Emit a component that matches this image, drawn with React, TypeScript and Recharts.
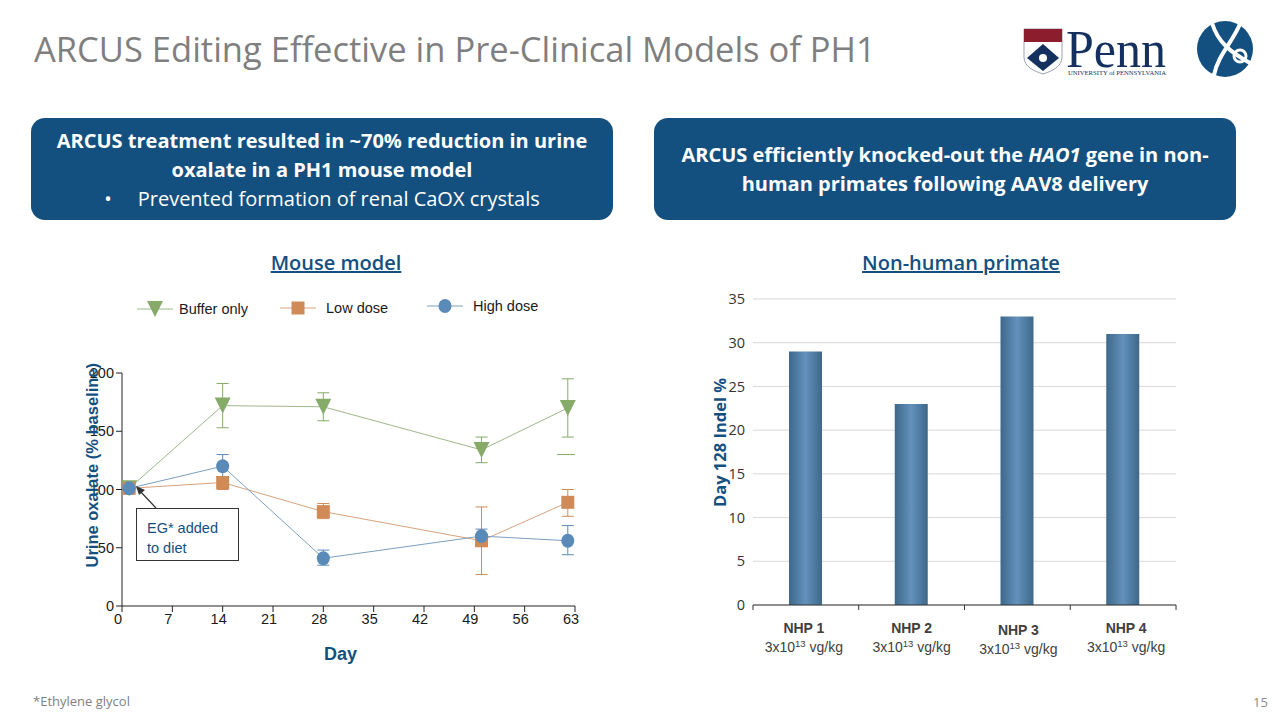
import React from 'react';
import {
  LineChart, Line, BarChart, Bar, XAxis, YAxis, CartesianGrid, ErrorBar, Legend, ReferenceLine,
} from 'recharts';

const NAVY = '#14507f';
const GREEN = '#86aa68';
const ORANGE = '#d08a58';
const BLUE = '#5a8ab8';

// mouse model
const days = [1, 14, 28, 50, 62];
const dayTicks = [0, 7, 14, 21, 28, 35, 42, 49, 56, 63];
const oxalateTicks = [0, 50, 100, 150, 200];
const buffer = [101, 172, 171, 134, 170];
const bufferLow = [101, 153, 159, 123, 145];
const bufferHigh = [101, 191, 183, 145, 195];
const lowDose = [101, 106, 81, 56, 89];
const lowDoseLow = [101, 100, 75, 27, 77];
const lowDoseHigh = [101, 111, 88, 85, 100];
const highDose = [101, 120, 41, 60, 56];
const highDoseLow = [101, 111, 35, 54, 44];
const highDoseHigh = [101, 130, 48, 66, 69];

const mouseData = days.map((day, i) => ({
  day,
  buffer: buffer[i],
  bufferErr: [buffer[i] - bufferLow[i], bufferHigh[i] - buffer[i]],
  low: lowDose[i],
  lowErr: [lowDose[i] - lowDoseLow[i], lowDoseHigh[i] - lowDose[i]],
  high: highDose[i],
  highErr: [highDose[i] - highDoseLow[i], highDoseHigh[i] - highDose[i]],
}));

// non-human primate
const animals = ['NHP 1', 'NHP 2', 'NHP 3', 'NHP 4'];
const indel = [29, 23, 33, 31];
const indelTicks = [0, 5, 10, 15, 20, 25, 30, 35];
const nhpData = animals.map((name, i) => ({ name, indel: indel[i] }));

const OPEN = '"Open Sans", sans-serif';
const ARIAL = '"Liberation Sans", Arial, sans-serif';

const TriangleDot = ({ cx, cy }: any) => (
  <path d={`M${cx - 8} ${cy - 8}L${cx + 8} ${cy - 8}L${cx} ${cy + 8}Z`} fill={GREEN} />
);
const SquareDot = ({ cx, cy }: any) => (
  <rect x={cx - 6.5} y={cy - 6.5} width={13} height={13} fill={ORANGE} />
);
const CircleDot = ({ cx, cy }: any) => (
  <ellipse cx={cx} cy={cy} rx={6.5} ry={7} fill={BLUE} />
);

const legendItems = [
  { label: 'Buffer only', color: '#9db88a', left: 137, top: 301, text: 179, kind: 'tri' },
  { label: 'Low dose', color: '#d9a27c', left: 280, top: 300, text: 326, kind: 'sq' },
  { label: 'High dose', color: '#7d9fc1', left: 427, top: 298, text: 473, kind: 'ci' },
];

const MouseLegend = () => (
  <div style={{ position: 'relative', width: 580, height: 30 }}>
    {legendItems.map((it) => (
      <React.Fragment key={it.label}>
        <svg style={{ position: 'absolute', left: it.left - 30, top: it.top - 291 }} width={36} height={18}>
          <line x1={0} x2={36} y1={9} y2={9} stroke={it.color} strokeWidth={1} />
          {it.kind === 'tri' && <TriangleDot cx={18} cy={9} />}
          {it.kind === 'sq' && <SquareDot cx={18} cy={9} />}
          {it.kind === 'ci' && <CircleDot cx={18} cy={9} />}
        </svg>
        <span style={{ position: 'absolute', left: it.text - 30, top: it.top - 291, fontFamily: ARIAL, fontSize: 14.5, color: '#1a1a1a', lineHeight: '18px', whiteSpace: 'nowrap' }}>
          {it.label}
        </span>
      </React.Fragment>
    ))}
  </div>
);

const NhpTick = ({ x, y, payload, index }: any) => {
  const half = 52.9;
  const shift = payload.value === 'NHP 3' ? 2 : 0;
  const nudge = [-2, 0, 1, 3][index] ?? 0;
  return (
    <g>
      <line x1={x - half} x2={x - half} y1={y - 8} y2={y - 3} stroke="#333" />
      {index === animals.length - 1 && <line x1={x + half} x2={x + half} y1={y - 8} y2={y - 3} stroke="#333" />}
      <text x={x + nudge} y={y + 20 + shift} textAnchor="middle" fontFamily={ARIAL} fontSize={14} fontWeight="bold" fill="#404040">
        {payload.value}
      </text>
      <text x={x + nudge} y={y + 39 + shift} textAnchor="middle" fontFamily={ARIAL} fontSize={14} fill="#404040">
        3x10<tspan dy={-5} fontSize={9.5}>13</tspan><tspan dy={5}> vg/kg</tspan>
      </text>
    </g>
  );
};

const Box = ({ left, children }: any) => (
  <div style={{
    position: 'absolute', left, top: 118, width: 582, height: 102, background: NAVY, borderRadius: 14,
    color: '#fff', fontFamily: OPEN, fontSize: 20, lineHeight: '29px', textAlign: 'center',
    display: 'flex', flexDirection: 'column', justifyContent: 'center',
  }}>
    {children}
  </div>
);

const Heading = ({ center, children }: any) => (
  <div style={{
    position: 'absolute', left: center - 150, width: 300, top: 249, textAlign: 'center', fontFamily: OPEN,
    fontSize: 20, fontWeight: 600, color: NAVY, textDecoration: 'underline', lineHeight: '28px',
  }}>
    {children}
  </div>
);

const Logos = () => (
  <svg style={{ position: 'absolute', left: 1010, top: 15 }} width={260} height={70}>
    {/* Penn shield */}
    <path d="M14 14H52V42C52 52 42 56 33 59C24 56 14 52 14 42Z" fill="#fff" stroke="#9aa3b2" />
    <rect x={14} y={14} width={38} height={13} fill="#8c1d2c" />
    <path d="M33 29L49 43L33 56L17 43Z" fill="#14305f" />
    <circle cx={33} cy={43} r={4} fill="#fff" />
    <text x={56} y={52} fontFamily='"Liberation Serif", serif' fontSize={52} fill="#14305f" textLength={100} lengthAdjust="spacingAndGlyphs">Penn</text>
    <text x={58} y={60} fontFamily='"Liberation Serif", serif' fontSize={6.5} fill="#14305f" textLength={98} lengthAdjust="spacingAndGlyphs">UNIVERSITY of PENNSYLVANIA</text>
    {/* round mark */}
    <circle cx={215} cy={34} r={28} fill={NAVY} />
    <path d="M202 8C208 28 222 38 240 48M230 9C222 28 208 40 204 60" fill="none" stroke="#fff" strokeWidth={4} />
    <circle cx={230} cy={41} r={6} fill="none" stroke="#fff" strokeWidth={3} />
  </svg>
);

export default function App() {
  return (
    <div style={{ position: 'absolute', left: 0, top: 0, width: 1280, height: 720, background: '#fff', overflow: 'hidden' }}>
      <div style={{ position: 'absolute', left: 34, top: 25, fontFamily: OPEN, fontSize: 34.5, color: '#7f7f7f', whiteSpace: 'nowrap', lineHeight: '48px' }}>
        ARCUS Editing Effective in Pre-Clinical Models of PH1
      </div>
      <Logos />

      <Box left={31}>
        <div style={{ fontWeight: 700 }}>ARCUS treatment resulted in ~70% reduction in urine</div>
        <div style={{ fontWeight: 700 }}>oxalate in a PH1 mouse model</div>
        <div>•&nbsp;&nbsp;&nbsp;&nbsp;&nbsp;Prevented formation of renal CaOX crystals</div>
      </Box>
      <Box left={654}>
        <div style={{ fontWeight: 700 }}>ARCUS efficiently knocked-out the <i>HAO1</i> gene in non-</div>
        <div style={{ fontWeight: 700 }}>human primates following AAV8 delivery</div>
      </Box>

      <Heading center={336}>Mouse model</Heading>
      <Heading center={961}>Non-human primate</Heading>

      <div style={{ position: 'absolute', left: 30, top: 290 }}>
        <LineChart width={580} height={390} data={mouseData} margin={{ top: 53, right: 35, bottom: 44, left: 42 }}>
          <Legend verticalAlign="top" content={<MouseLegend />} wrapperStyle={{ left: 0, top: 0, width: 580, height: 30 }} />
          <XAxis
            dataKey="day" type="number" domain={[0, 63]} ticks={dayTicks} interval={0} height={30}
            stroke="#222" tickSize={6} tick={{ fontFamily: ARIAL, fontSize: 14.5, fill: '#1a1a1a', dx: -4 }}
            label={{ value: 'Day', position: 'insideBottom', offset: -24, dx: -8, style: { fontFamily: ARIAL, fontSize: 18, fontWeight: 'bold', fill: NAVY } }}
          />
          <YAxis
            type="number" domain={[0, 200]} ticks={oxalateTicks} interval={0} width={50}
            stroke="#222" tickSize={6} tick={{ fontFamily: ARIAL, fontSize: 14.5, fill: '#1a1a1a' }}
            label={{ value: 'Urine oxalate (% baseline)', angle: -90, position: 'insideLeft', dx: 15, dy: 78, style: { fontFamily: ARIAL, fontSize: 16.5, fontWeight: 'bold', fill: NAVY } }}
          />
          <ReferenceLine segment={[{ x: 60.5, y: 130 }, { x: 63, y: 130 }]} stroke={GREEN} />
          <Line dataKey="buffer" stroke="#9db88a" strokeWidth={1} dot={<TriangleDot />} isAnimationActive={false}>
            <ErrorBar dataKey="bufferErr" width={6} stroke={GREEN} strokeWidth={1} isAnimationActive={false} />
          </Line>
          <Line dataKey="low" stroke="#d9a27c" strokeWidth={1} dot={<SquareDot />} isAnimationActive={false}>
            <ErrorBar dataKey="lowErr" width={6} stroke={ORANGE} strokeWidth={1} isAnimationActive={false} />
          </Line>
          <Line dataKey="high" stroke="#7d9fc1" strokeWidth={1} dot={<CircleDot />} isAnimationActive={false}>
            <ErrorBar dataKey="highErr" width={6} stroke={BLUE} strokeWidth={1} isAnimationActive={false} />
          </Line>
        </LineChart>
      </div>

      {/* annotation under the first point */}
      <svg style={{ position: 'absolute', left: 130, top: 480, pointerEvents: 'none' }} width={40} height={40}>
        <line x1={26} y1={28} x2={9} y2={10} stroke="#333" strokeWidth={1.2} />
        <path d="M6 6L15 10L9 15Z" fill="#333" />
      </svg>
      <div style={{
        position: 'absolute', left: 136, top: 508, width: 103, height: 53, border: '1px solid #333', background: '#fff',
        boxSizing: 'border-box', padding: '9px 0 0 10px', fontFamily: ARIAL, fontSize: 14.5, lineHeight: '20px', color: NAVY,
      }}>
        EG* added<br />to diet
      </div>

      <div style={{ position: 'absolute', left: 660, top: 280 }}>
        <defs />
        <BarChart width={530} height={390} data={nhpData} margin={{ top: 19, right: 14, bottom: 5, left: 43 }} barCategoryGap="0%">
          <defs>
            <linearGradient id="barShade" x1="0" y1="0" x2="1" y2="0">
              <stop offset="0%" stopColor="#3e6889" />
              <stop offset="50%" stopColor="#6291bc" />
              <stop offset="100%" stopColor="#3e6889" />
            </linearGradient>
          </defs>
          <CartesianGrid vertical={false} stroke="#d9d9d9" />
          <XAxis dataKey="name" stroke="#333" tickLine={false} height={60} interval={0} tick={<NhpTick />} />
          <YAxis
            type="number" domain={[0, 35]} ticks={indelTicks} interval={0} width={50} axisLine={false} tickLine={false}
            tick={{ fontFamily: OPEN, fontSize: 14.5, fill: '#333' }}
            label={{ value: 'Day 128 Indel %', angle: -90, position: 'insideLeft', dx: 12, dy: 55, style: { fontFamily: OPEN, fontSize: 16.5, fontWeight: 'bold', fill: NAVY } }}
          />
          <Bar dataKey="indel" barSize={33} fill="url(#barShade)" isAnimationActive={false} />
        </BarChart>
      </div>

      <div style={{ position: 'absolute', left: 33, top: 692, fontFamily: OPEN, fontSize: 13, color: '#7f7f7f', lineHeight: '18px' }}>*Ethylene glycol</div>
      <div style={{ position: 'absolute', left: 1253, top: 693, fontFamily: OPEN, fontSize: 13, color: '#8c8c8c', lineHeight: '18px' }}>15</div>
    </div>
  );
}
